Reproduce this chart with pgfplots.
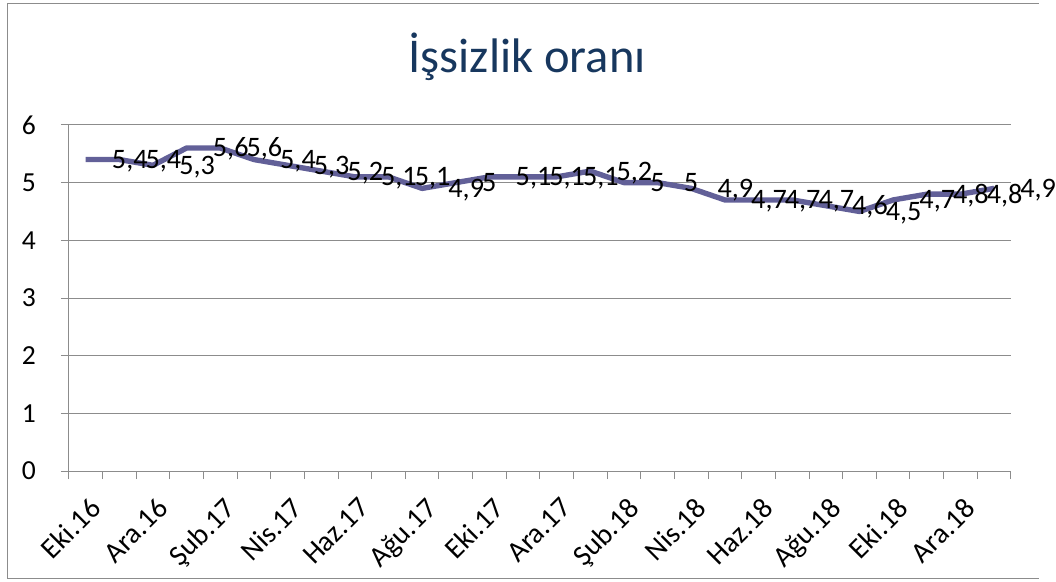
\documentclass[border=0pt]{standalone}
\usepackage{pgfplots}
\pgfplotsset{compat=1.18}
\usepackage{pgfplotstable}
\usepackage{fontspec}
\setmainfont{Carlito}
\definecolor{titleblue}{RGB}{23,55,94}
\definecolor{serie}{RGB}{98,96,152}
\definecolor{gridgray}{RGB}{140,140,140}
\definecolor{bordergray}{RGB}{140,140,140}

\pgfplotstableread{
x y lab
0 5.4 5,4
1 5.4 5,4
2 5.3 5,3
3 5.6 5,6
4 5.6 5,6
5 5.4 5,4
6 5.3 5,3
7 5.2 5,2
8 5.1 5,1
9 5.1 5,1
10 4.9 4,9
11 5.0 5
12 5.1 5,1
13 5.1 5,1
14 5.1 5,1
15 5.2 5,2
16 5.0 5
17 5.0 5
18 4.9 4,9
19 4.7 4,7
20 4.7 4,7
21 4.7 4,7
22 4.6 4,6
23 4.5 4,5
24 4.7 4,7
25 4.8 4,8
26 4.8 4,8
27 4.9 4,9
}\datatable

\begin{document}
\begin{tikzpicture}
\begin{scope}[x=0.75pt,y=0.75pt]
\path[use as bounding box] (0,0) rectangle (1056,591);
\draw[bordergray, line width=0.75pt] (1056,3) -- (8,3) -- (8,587.7) -- (1056,587.7);
\node[anchor=base, text=titleblue, font=\fontsize{37}{42}\selectfont, inner sep=0pt] at (536,517.7) {İşsizlik oranı};
\end{scope}
\begin{axis}[
  at={(52.5pt,84pt)}, anchor=south west,
  width=718.3pt, height=264pt, scale only axis,
  xmin=-0.5, xmax=27.5, ymin=0, ymax=6,
  clip=false,
  axis x line*=bottom, axis y line*=left,
  axis line style={-, draw=gridgray, line width=0.75pt},
  ytick={0,1,...,6},
  ymajorgrids, grid style={gridgray, line width=0.75pt},
  xtick={0,2,...,26},
  xticklabels={Eki.16,Ara.16,Şub.17,Nis.17,Haz.17,Ağu.17,Eki.17,Ara.17,Şub.18,Nis.18,Haz.18,Ağu.18,Eki.18,Ara.18},
  minor xtick={-0.5,0.5,...,27.5},
  major x tick style={draw=none},
  minor x tick style={draw=gridgray, line width=0.75pt},
  y tick style={draw=gridgray, line width=0.75pt},
  tick align=outside,
  major tick length=6pt, minor tick length=6pt,
  /pgf/number format/assume math mode=true,
  tick label style={font=\fontsize{21}{24}\selectfont, text=black},
  yticklabel style={anchor=east, inner sep=0pt, xshift=-19pt},
  xticklabel style={font=\fontsize{22}{24}\selectfont, yshift=-13pt, xshift=2pt, rotate=45, anchor=north east, inner sep=0pt},
]
\addplot[serie, line width=4.1pt, line join=round,
  nodes near coords, point meta=explicit symbolic,
  nodes near coords style={anchor=base west, inner sep=0pt, xshift=18pt, yshift=-6.8pt, text=black, font=\fontsize{21.5}{24}\selectfont}]
  table[x=x, y=y, meta=lab]{\datatable};
\end{axis}
\end{tikzpicture}
\end{document}
